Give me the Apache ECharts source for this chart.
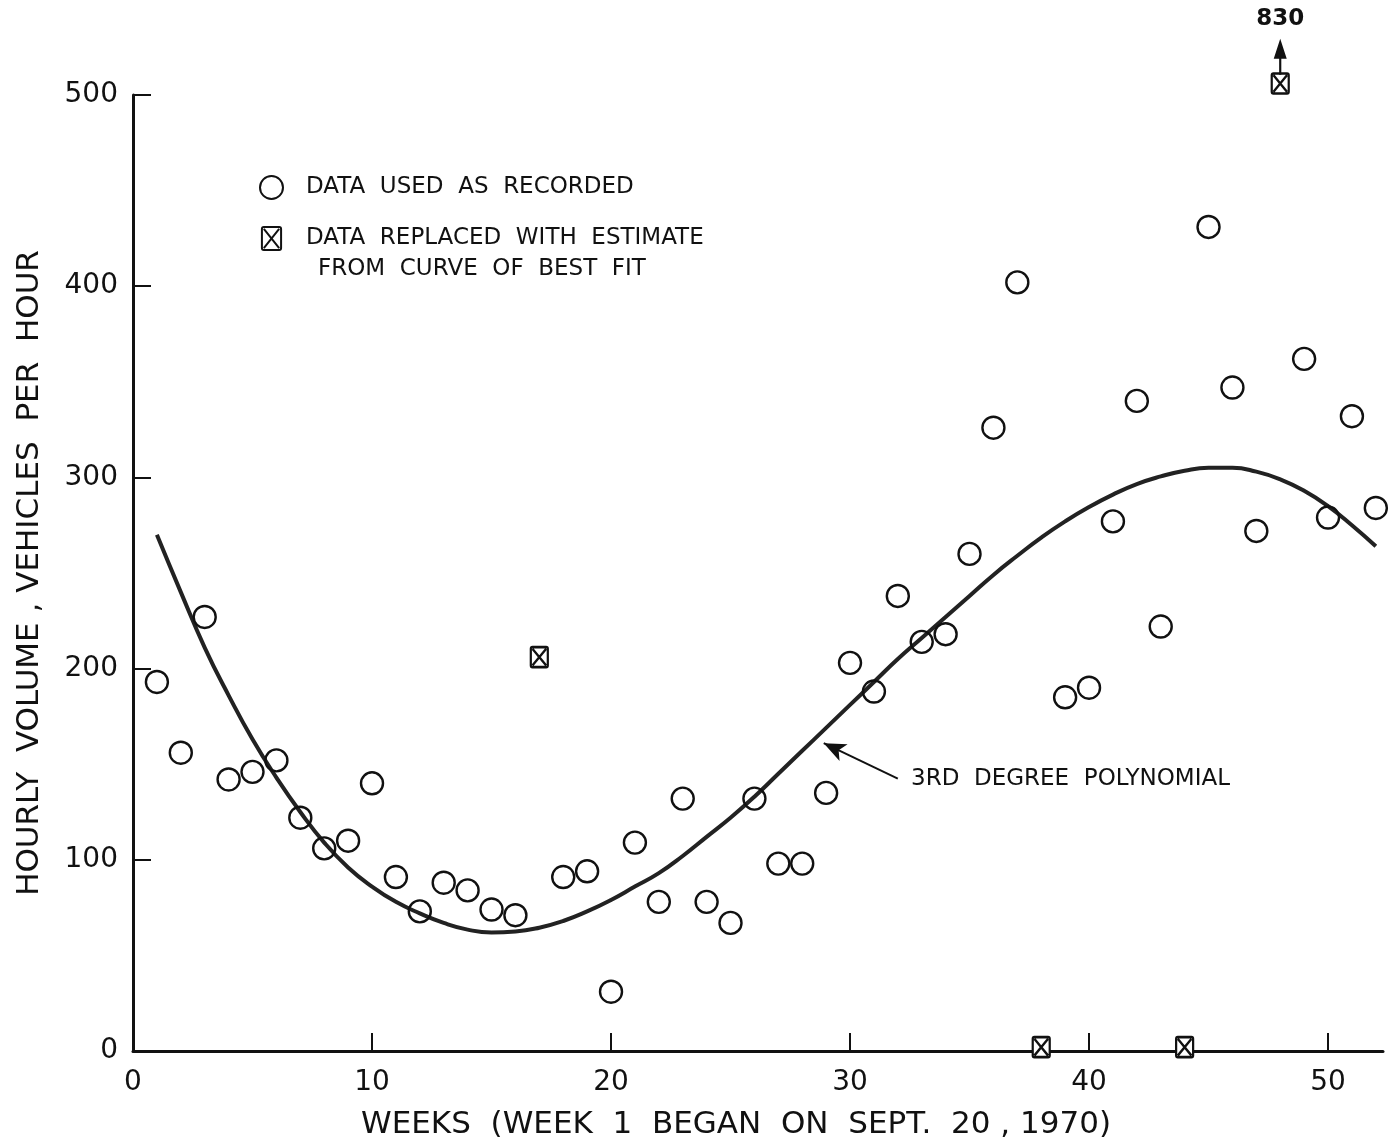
<!DOCTYPE html>
<html>
<head>
<meta charset="utf-8">
<script src="https://cdn.jsdelivr.net/npm/echarts@6/dist/echarts.min.js"></script>
<style>html,body{margin:0;padding:0;background:#fff}#c{width:1389px;height:1148px}</style>
</head>
<body>
<div id="c"></div>
<script>
// ---- data ----
var recordedWeeks = [1,2,3,4,5,6,7,8,9,10,11,12,13,14,15,16,18,19,20,21,22,23,24,25,26,27,28,29,30,31,32,33,34,35,36,37,39,40,41,42,43,45,46,47,49,50,51,52];
var recordedVolume = [193,156,227,142,146,152,122,106,110,140,91,73,88,84,74,71,91,94,31,109,78,132,78,67,132,98,98,135,203,188,238,214,218,260,326,402,185,190,277,340,222,431,347,272,362,279,332,284];
var replacedWeeks = [17,38,44,48];
var replacedVolume = [206,2,2,506];
var offscaleWeek = 48;
var offscaleValue = 830;
var curveWeeks = [1,2,3,4,5,6,7,8,9,10,11,12,13,14,15,16,17,18,19,20,21,22,23,24,25,26,27,28,29,30,31,32,33,34,35,36,37,38,39,40,41,42,43,44,45,46,47,48,49,50,51,52];
var curveVolume = [270,240,211,186,163,143,125,109,96,86,78,72,67,63.5,62,62.5,64.5,68,73,79,86,93,102,112,122,133,145,157,169,181,193,205,216,227,238,249,259,268.5,277,284.5,291,296.5,300.5,303.5,305,305,303,299,293,285,275,264];
var xTicks = [0,10,20,30,40,50];
var yTicks = [0,100,200,300,400,500];

var FONT = 'DejaVu Sans';
var INK = '#111';

function pairs(xs, ys){ return xs.map(function(x,i){ return [x, ys[i]]; }); }

var crossBox = 'path://M1,0H9Q10,0 10,1V11Q10,12 9,12H1Q0,12 0,11V1Q0,0 1,0Z M1,1L9,11 M9,1L1,11';
var arrowUp = 'path://M6,0L12,20L7,20L7,36L5,36L5,20L0,20Z';

var chart = echarts.init(document.getElementById('c'), null, {renderer:'canvas'});
chart.setOption({
  animation: false,
  backgroundColor: '#fff',
  textStyle: {fontFamily: FONT, color: INK},
  grid: {left: 133, right: 6, top: 95, bottom: 97, containLabel: false},
  legend: {
    data: ['DATA  USED  AS  RECORDED', 'DATA  REPLACED  WITH  ESTIMATE'],
    orient: 'vertical', left: 254, top: 170,
    itemWidth: 23, itemHeight: 23, itemGap: 26,
    textStyle: {fontFamily: FONT, fontSize: 23, color: INK, padding: [0,0,0,18]},
    selectedMode: false
  },
  graphic: [{
    type: 'text', left: 318, top: 258,
    style: {text: 'FROM  CURVE  OF  BEST  FIT', font: '23px "DejaVu Sans"', fill: INK}
  }],
  xAxis: {
    type: 'value', min: 0, max: 52.3, interval: 10,
    name: 'WEEKS  (WEEK  1  BEGAN  ON  SEPT.  20 , 1970)',
    nameLocation: 'middle', nameGap: 58,
    nameTextStyle: {fontFamily: FONT, fontSize: 31, color: INK, padding: [0,44,0,0]},
    axisLine: {show: true, lineStyle: {color: INK, width: 3}},
    axisTick: {show: true, inside: true, length: 18, lineStyle: {color: INK, width: 2}, customValues: [10,20,30,40,50]},
    axisLabel: {fontFamily: FONT, fontSize: 28, color: INK, margin: 18, customValues: xTicks},
    splitLine: {show: false}
  },
  yAxis: {
    type: 'value', min: 0, max: 500, interval: 100,
    name: 'HOURLY  VOLUME , VEHICLES  PER  HOUR',
    nameLocation: 'middle', nameGap: 88, nameRotate: 90,
    nameTextStyle: {fontFamily: FONT, fontSize: 31, color: INK},
    axisLine: {show: true, lineStyle: {color: INK, width: 3}},
    axisTick: {show: true, inside: true, length: 18, lineStyle: {color: INK, width: 2}, customValues: [100,200,300,400,500]},
    axisLabel: {fontFamily: FONT, fontSize: 28, color: INK, margin: 15, customValues: yTicks},
    splitLine: {show: false}
  },
  series: [
    {
      name: '3RD DEGREE POLYNOMIAL', type: 'line', smooth: 0.5, symbol: 'none',
      data: pairs(curveWeeks, curveVolume),
      lineStyle: {color: '#222', width: 4},
      z: 2,
      markLine: {
        silent: true, symbol: ['none', 'arrow'], symbolSize: [14, 22],
        lineStyle: {color: INK, width: 2, type: 'solid'},
        label: {show: false},
        data: [[{coord: [32.0, 142.5]}, {coord: [28.9, 161]}]]
      },
      markPoint: {
        silent: true,
        data: [{coord: [32.2, 142.5], symbol: 'circle', symbolSize: 1, itemStyle: {color: 'rgba(0,0,0,0)'},
          label: {show: true, position: 'right', distance: 8, formatter: '3RD  DEGREE  POLYNOMIAL', fontFamily: FONT, fontSize: 23, color: INK}}]
      }
    },
    {
      name: 'DATA  USED  AS  RECORDED', type: 'scatter', symbol: 'circle', symbolSize: 22,
      data: pairs(recordedWeeks, recordedVolume),
      itemStyle: {color: 'rgba(255,255,255,0)', borderColor: INK, borderWidth: 2.4, opacity: 1},
      z: 3
    },
    {
      name: 'DATA  REPLACED  WITH  ESTIMATE', type: 'scatter', symbol: crossBox, symbolSize: [17, 20],
      data: pairs(replacedWeeks, replacedVolume), clip: false,
      itemStyle: {color: '#fff', borderColor: INK, borderWidth: 2.4, opacity: 1},
      z: 4
    },
    {
      name: 'offscale', type: 'scatter', symbol: arrowUp, symbolSize: [13, 36], clip: false,
      data: [[offscaleWeek, 520]],
      itemStyle: {color: INK, opacity: 1},
      label: {show: true, position: 'top', distance: 8, formatter: String(offscaleValue), fontFamily: FONT, fontSize: 23, fontWeight: 'bold', color: INK, opacity: 1},
      emphasis: {disabled: true},
      z: 4
    }
  ]
});
</script>
</body>
</html>
